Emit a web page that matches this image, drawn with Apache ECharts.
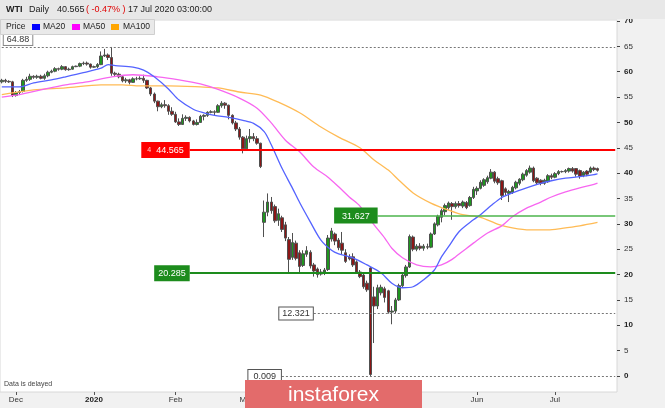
<!DOCTYPE html>
<html><head><meta charset="utf-8">
<script src="https://cdn.jsdelivr.net/npm/echarts@6/dist/echarts.min.js"></script>
<style>html,body{margin:0;padding:0;background:#f1f1f1;}#c{width:665px;height:408px;}</style>
</head><body><div id="c"></div>
<script>
// ---------- DATA ----------
const firstDay = '2019-11-26';
const lastDay = '2020-07-24';   // last 5 weekdays are empty space on the right
const monthNames = ['Jan','Feb','Mar','Apr','May','Jun','Jul','Aug','Sep','Oct','Nov','Dec'];

// daily candles [open, close, low, high], one per weekday from firstDay
const candles = [
[58.0,58.3,57.7,58.6],[58.3,58.1,57.8,58.6],[58.1,58.0,57.8,58.3],[58.0,55.3,55.0,58.2],
[55.3,55.9,55.1,56.2],[55.9,56.1,55.4,56.4],[56.1,58.3,55.9,58.6],[58.3,58.5,58.0,59.0],[58.5,59.1,58.2,59.6],
[59.1,58.9,58.6,59.3],[58.9,59.1,58.6,59.4],[59.1,58.7,58.5,59.4],[58.7,59.2,58.4,59.6],[59.2,59.9,58.9,60.2],
[59.9,60.1,59.7,60.4],[60.1,60.6,59.9,60.9],[60.6,60.5,60.2,60.8],[60.5,61.0,60.3,61.3],[61.0,60.4,60.2,61.1],
[60.4,60.5,60.2,60.8],[60.5,61.0,60.4,61.2],[61.0,61.1,60.9,61.2],[61.1,61.6,60.9,61.8],[61.6,61.7,61.3,62.0],
[61.7,61.5,61.2,62.0],[61.5,60.9,60.6,61.6],
[60.9,61.0,60.8,61.2],[61.0,61.4,60.7,61.7],[61.4,63.1,61.3,64.0],
[63.1,63.3,62.9,64.5],[63.3,62.8,62.3,63.6],[62.8,59.7,59.2,64.88],[59.7,59.5,59.0,60.0],[59.5,59.0,58.7,59.8],
[59.0,58.2,57.9,59.3],[58.2,58.4,57.8,58.8],[58.4,57.9,57.5,58.6],[57.9,58.6,57.8,58.9],[58.6,58.6,58.3,59.0],
[58.6,58.7,58.4,59.1],[58.7,58.3,57.8,59.4],[58.3,56.8,56.6,58.4],[56.8,55.6,55.2,57.0],[55.6,54.2,53.8,55.9],
[54.2,53.1,52.2,54.3],[53.1,53.5,52.8,53.9],[53.5,53.3,52.9,54.4],[53.3,52.2,51.5,53.6],[52.2,51.6,51.3,53.0],
[51.6,50.1,49.9,52.1],[50.1,49.6,49.3,50.8],[49.6,50.8,49.5,51.6],[50.8,51.0,50.3,51.4],[51.0,50.3,50.0,51.2],
[50.3,49.6,49.4,50.5],[49.6,50.0,49.4,50.6],[50.0,51.2,49.9,51.5],[51.2,51.4,50.4,51.6],[51.4,52.0,51.1,52.2],
[52.0,52.1,51.8,52.4],[52.1,52.0,51.3,52.4],[52.0,53.3,51.9,53.6],[53.3,53.8,52.9,54.2],[53.8,53.4,52.7,54.0],
[53.4,51.4,50.6,53.5],[51.4,49.9,49.6,51.6],[49.9,48.7,48.3,50.3],[48.7,47.1,46.6,49.1],[47.1,44.8,43.9,47.3],
[44.8,46.8,44.6,47.4],[46.8,47.2,46.0,48.7],[47.2,46.8,46.3,47.9],[46.8,45.9,45.6,47.3],[45.9,41.3,41.0,46.0],
[30.3,32.3,27.4,34.6],[32.3,34.3,31.5,36.0],[34.3,32.6,32.0,35.3],[33.4,30.6,30.2,33.8],[30.7,32.0,29.6,33.0],
[31.2,28.9,28.4,31.6],[29.8,27.2,26.6,30.4],[26.9,23.0,20.3,27.4],[23.4,26.3,22.9,28.2],[26.2,23.2,22.8,26.7],
[24.3,21.6,20.4,24.8],[21.8,24.1,21.5,24.8],[24.0,24.7,23.5,25.6],[24.4,21.7,21.2,24.8],[21.9,20.7,19.6,22.3],
[21.1,20.0,19.4,21.4],[20.1,20.5,19.8,21.1],[20.4,20.9,19.9,21.3],[21.0,27.2,20.7,27.8],[27.0,28.6,26.5,29.2],
[28.0,26.6,25.8,28.3],[26.8,25.3,24.8,27.2],[26.2,24.8,23.9,28.4],[24.3,22.6,22.3,25.0],[23.5,23.1,22.8,24.0],
[23.5,21.9,21.5,24.2],[22.5,20.5,20.2,22.8],[20.5,19.6,19.3,20.9],[19.9,17.6,17.2,20.2],[18.3,17.0,16.6,18.8],
[21.3,0.3,0.009,21.5],[15.6,13.8,6.5,17.6],[13.8,17.4,13.2,18.0],[16.4,17.5,15.9,18.0],[17.2,15.5,14.5,17.6],
[16.8,12.6,12.3,17.0],[12.6,12.8,10.2,13.8],[12.8,15.0,12.4,15.4],[15.0,17.8,14.8,18.2],[17.8,19.9,17.5,20.3],
[19.8,21.5,19.4,21.9],[21.5,27.5,21.3,27.9],[27.4,25.0,24.6,27.7],[25.0,25.6,24.6,26.0],[25.6,25.2,24.8,26.2],
[25.2,25.6,24.7,26.0],[25.5,25.4,25.0,26.1],[25.4,28.0,25.2,28.3],[28.0,30.0,27.8,30.3],[29.8,31.5,29.5,31.8],
[31.3,32.6,30.3,33.0],[32.4,33.6,31.7,34.0],[33.2,34.1,32.8,34.4],[34.0,33.4,30.8,34.3],[33.4,34.0,33.0,34.4],
[34.0,33.6,33.2,34.5],[33.5,34.3,33.1,34.6],[34.2,33.2,32.9,34.5],[33.6,35.2,33.4,35.5],[35.2,36.8,34.9,37.3],
[36.5,37.0,35.7,37.4],[37.0,38.2,36.8,38.6],[37.6,38.7,37.3,39.0],[38.3,39.1,37.9,39.5],[39.0,40.2,38.8,40.8],
[40.2,38.4,38.0,40.4],[38.9,38.1,37.7,39.3],[38.5,35.6,34.7,38.7],[36.9,36.2,35.6,37.2],[36.0,36.4,34.3,36.7],
[36.2,37.2,35.9,37.5],[37.1,38.2,36.8,38.5],[38.0,38.8,37.6,39.0],[38.7,39.8,38.4,40.1],[39.6,40.5,39.3,40.8],
[40.2,41.0,39.9,41.5],[41.0,38.5,38.2,41.3],[39.0,38.1,37.8,39.2],[38.6,38.0,37.6,38.8],[38.0,38.6,37.7,38.9],
[38.3,39.5,38.1,39.8],[39.5,39.2,38.8,39.9],[39.2,39.9,39.0,40.2],[39.9,40.3,39.6,40.6],[40.3,40.3,40.1,40.5],
[40.3,40.5,40.0,40.8],[40.4,40.9,40.1,41.1],[40.9,40.4,40.1,41.2],[40.9,39.8,39.3,41.0],[40.5,39.4,38.9,40.7],
[39.5,40.2,39.2,40.4],[40.4,39.8,39.4,40.6],[40.2,41.0,40.0,41.3],[41.0,40.7,40.4,41.3],[40.9,40.565,40.3,41.1]
];

// moving averages [date, value]
const ma20 = [['2019-11-26',57.0],['2019-12-03',57.0],['2019-12-09',57.8],['2019-12-16',58.4],['2019-12-20',59.0],['2019-12-27',59.8],['2020-01-03',60.7],['2020-01-07',61.4],['2020-01-09',61.2],['2020-01-16',60.9],['2020-01-21',60.3],['2020-01-24',59.0],['2020-01-30',56.6],['2020-02-04',54.4],['2020-02-10',52.6],['2020-02-13',51.9],['2020-02-18',51.4],['2020-02-24',51.0],['2020-02-28',50.4],['2020-03-04',49.8],['2020-03-09',48.2],['2020-03-11',45.6],['2020-03-16',41.0],['2020-03-19',37.0],['2020-03-23',34.2],['2020-03-26',30.4],['2020-03-31',26.8],['2020-04-03',24.8],['2020-04-07',24.1],['2020-04-13',23.3],['2020-04-17',21.9],['2020-04-23',20.3],['2020-04-28',18.3],['2020-05-01',17.4],['2020-05-06',17.6],['2020-05-11',19.0],['2020-05-14',20.9],['2020-05-18',23.5],['2020-05-20',25.5],['2020-05-25',28.5],['2020-05-29',30.8],['2020-06-02',31.8],['2020-06-05',33.6],['2020-06-10',35.2],['2020-06-15',36.1],['2020-06-19',37.1],['2020-06-25',38.0],['2020-06-30',38.5],['2020-07-06',39.0],['2020-07-10',39.3],['2020-07-16',39.7],['2020-07-17',39.9]];
const ma50 = [['2019-11-26',55.0],['2019-12-03',55.5],['2019-12-11',56.4],['2019-12-20',57.4],['2019-12-30',58.0],['2020-01-08',59.0],['2020-01-16',59.4],['2020-01-27',59.0],['2020-02-04',58.4],['2020-02-12',57.6],['2020-02-19',56.5],['2020-02-27',54.8],['2020-03-05',52.8],['2020-03-11',49.9],['2020-03-17',46.5],['2020-03-23',44.2],['2020-03-27',41.2],['2020-04-02',39.2],['2020-04-07',37.3],['2020-04-10',35.3],['2020-04-15',33.5],['2020-04-21',29.8],['2020-04-24',27.2],['2020-04-28',25.2],['2020-05-01',23.3],['2020-05-07',21.9],['2020-05-13',21.5],['2020-05-18',21.9],['2020-05-21',23.0],['2020-05-26',24.6],['2020-05-29',26.2],['2020-06-04',28.2],['2020-06-10',29.6],['2020-06-15',31.4],['2020-06-19',33.1],['2020-06-25',34.3],['2020-06-30',35.3],['2020-07-06',36.3],['2020-07-10',37.1],['2020-07-16',37.8],['2020-07-17',38.042]];
const ma100 = [['2019-11-26',55.5],['2019-12-09',56.4],['2019-12-20',56.8],['2020-01-03',57.4],['2020-01-13',57.4],['2020-01-20',57.2],['2020-01-30',57.2],['2020-02-12',57.0],['2020-02-19',56.8],['2020-02-27',56.0],['2020-03-06',55.4],['2020-03-13',54.0],['2020-03-23',51.9],['2020-03-31',49.1],['2020-04-07',47.1],['2020-04-15',45.0],['2020-04-21',42.6],['2020-04-27',40.6],['2020-04-30',38.6],['2020-05-06',36.1],['2020-05-13',34.1],['2020-05-20',32.7],['2020-05-26',31.8],['2020-06-02',31.3],['2020-06-09',29.9],['2020-06-15',29.2],['2020-06-22',28.8],['2020-06-29',28.8],['2020-07-03',29.1],['2020-07-10',29.6],['2020-07-17',30.276]];

// drawn horizontal levels and the day each one starts
const levelValues = [64.88, 44.565, 31.627, 20.285, 12.321, 0.009];
const levelStart  = ['2019-11-26','2020-02-07','2020-04-22','2020-02-07','2020-03-27','2020-03-16'];

const yTicks = {min: 0, max: 70, step: 5};
const headerTexts = ['WTI', 'Daily', '40.565', '( -0.47% )', '17 Jul 2020 03:00:00'];
const legendNames = ['MA20', 'MA50', 'MA100'];

// ---------- BUILD ----------
function weekdays(a, b) {
  const out = []; const d = new Date(a + 'T00:00:00Z'); const e = new Date(b + 'T00:00:00Z');
  while (d <= e) { const w = d.getUTCDay(); if (w !== 0 && w !== 6) out.push(d.toISOString().slice(0, 10)); d.setUTCDate(d.getUTCDate() + 1); }
  return out;
}
const cats = weekdays(firstDay, lastDay);
const lastCat = cats[cats.length - 1];
const monthStart = (i) => i > 0 && cats[i].slice(5, 7) !== cats[i - 1].slice(5, 7);
const FONT = 'Liberation Sans, Arial, sans-serif';

const levelStyles = [
  {line: {color: '#777', type: [2, 2], width: 1}, pos: 'insideStartTop', bg: '#fff', border: '#888', color: '#333', pad: [2, 3, 1, 3]},
  {line: {color: '#ff0000', type: 'solid', width: 2}, pos: 'start', bg: '#ff0000', border: '#ff0000', color: '#fff', icon: true, pad: [3, 5, 2, 5]},
  {line: {color: '#4cb44c', type: 'solid', width: 1.5}, pos: 'start', bg: '#1d8c1d', border: '#1d8c1d', color: '#fff', pad: [3, 7, 2, 7]},
  {line: {color: '#1d8c1d', type: 'solid', width: 2}, pos: 'start', bg: '#1d8c1d', border: '#1d8c1d', color: '#fff', pad: [3, 3, 2, 3]},
  {line: {color: '#777', type: [2, 2], width: 1}, pos: 'start', bg: '#fff', border: '#555', color: '#333', pad: [2, 3, 1, 3]},
  {line: {color: '#777', type: [2, 2], width: 1}, pos: 'start', bg: '#fff', border: '#555', color: '#333', pad: [2, 5, 1, 5]}
];

const levelLines = levelValues.map((v, k) => {
  const s = levelStyles[k];
  return [{
    coord: [levelStart[k], v], lineStyle: s.line,
    label: {show: true, position: s.pos, distance: s.pos === 'start' ? 1 : 2,
      formatter: s.icon ? '{i|4}  ' + v : String(v),
      backgroundColor: s.bg, borderColor: s.border, borderWidth: 1, padding: s.pad,
      color: s.color, fontSize: 9, fontFamily: FONT,
      rich: {i: {fontSize: 7, color: '#ffd0d0', fontFamily: FONT}}}
  }, {coord: [lastCat, v], lineStyle: s.line}];
});

const lastClose = candles[candles.length - 1][1];
const ma50Last = ma50[ma50.length - 1][1];
const ma100Last = ma100[ma100.length - 1][1];
const sideTag = (v, bg, fg, border) => ({
  yAxis: v, lineStyle: {opacity: 0},
  label: {show: true, position: 'end', distance: 3, formatter: v.toFixed(3), backgroundColor: bg,
    borderColor: border, borderWidth: 1, padding: [2, 3, 1, 4], color: fg, fontSize: 8.5, fontFamily: FONT}
});

const chart = echarts.init(document.getElementById('c'));
chart.setOption({
  animation: false,
  backgroundColor: '#f1f1f1',
  textStyle: {fontFamily: FONT},
  grid: [
    {left: 0, right: 48, top: 21, bottom: 32, show: false, containLabel: false, outerBoundsMode: 'none'},
    {left: 0, right: 48, top: 20, bottom: 16, show: true, backgroundColor: '#ffffff', borderColor: '#d8d8d8', borderWidth: 1, containLabel: false, outerBoundsMode: 'none'}
  ],
  xAxis: [
    {type: 'category', data: cats, gridIndex: 0, show: false, boundaryGap: true},
    {type: 'category', data: cats, gridIndex: 1, boundaryGap: true,
      axisLine: {show: false},
      axisTick: {show: true, alignWithLabel: true, interval: (i) => monthStart(i), length: 3, lineStyle: {color: '#555'}},
      axisLabel: {interval: (i) => monthStart(i), margin: 4, fontSize: 8, color: '#333', fontFamily: FONT,
        formatter: (v) => { const m = +v.slice(5, 7); return m === 1 ? '{b|' + v.slice(0, 4) + '}' : monthNames[m - 1]; },
        rich: {b: {fontWeight: 'bold', fontSize: 8, color: '#222', fontFamily: FONT}}},
      splitLine: {show: false}}
  ],
  yAxis: [
    {type: 'value', gridIndex: 0, position: 'right', min: yTicks.min, max: yTicks.max, interval: yTicks.step,
      splitLine: {show: false}, axisLine: {show: false},
      axisTick: {show: true, length: 3, lineStyle: {color: '#444'}},
      axisLabel: {margin: 7, fontSize: 8, color: '#333', fontFamily: FONT,
        formatter: (v) => v % 10 === 0 ? '{b|' + v + '}' : String(v),
        rich: {b: {fontWeight: 'bold', fontSize: 8, color: '#222', fontFamily: FONT}}}},
    {type: 'value', gridIndex: 1, show: false, min: 0, max: 1}
  ],
  series: [
    {type: 'candlestick', name: 'Price', xAxisIndex: 0, yAxisIndex: 0, data: candles, barWidth: 3,
      itemStyle: {color: '#1f961f', color0: '#8c1616', borderColor: '#505050', borderColor0: '#505050', borderWidth: 1},
      markLine: {symbol: ['none', 'none'], silent: true, animation: false, z: 5,
        data: levelLines.concat([
          sideTag(ma100Last, '#ffffff', '#ffa500', '#444'),
          sideTag(ma50Last, '#ffffff', '#ff00ff', '#444'),
          sideTag(lastClose, '#f7cd1c', '#333', '#888')
        ])}},
    {type: 'line', name: 'MA100', xAxisIndex: 0, yAxisIndex: 0, data: ma100, showSymbol: false, smooth: 0.3,
      lineStyle: {color: '#ffbb55', width: 1.3}, z: 3},
    {type: 'line', name: 'MA50', xAxisIndex: 0, yAxisIndex: 0, data: ma50, showSymbol: false, smooth: 0.3,
      lineStyle: {color: '#f766f0', width: 1.3}, z: 3},
    {type: 'line', name: 'MA20', xAxisIndex: 0, yAxisIndex: 0, data: ma20, showSymbol: false, smooth: 0.3,
      lineStyle: {color: '#5463ff', width: 1.3}, z: 3}
  ],
  graphic: [
    {type: 'rect', z: 50, shape: {x: 0, y: 0, width: 665, height: 19}, style: {fill: '#e8e8e8'}},
    {type: 'text', z: 51, x: 6, y: 10, style: {text: headerTexts[0], fontSize: 9, fontWeight: 'bold', fontFamily: FONT, fill: '#222', verticalAlign: 'middle'}},
    {type: 'text', z: 51, x: 29, y: 10, style: {text: headerTexts[1], fontSize: 9, fontFamily: FONT, fill: '#222', verticalAlign: 'middle'}},
    {type: 'text', z: 51, x: 57, y: 10, style: {text: headerTexts[2], fontSize: 9, fontFamily: FONT, fill: '#222', verticalAlign: 'middle'}},
    {type: 'text', z: 51, x: 86, y: 10, style: {text: headerTexts[3], fontSize: 9, fontFamily: FONT, fill: '#e00000', verticalAlign: 'middle'}},
    {type: 'text', z: 51, x: 128, y: 10, style: {text: headerTexts[4], fontSize: 9, fontFamily: FONT, fill: '#222', verticalAlign: 'middle'}},
    {type: 'rect', z: 50, shape: {x: 0.5, y: 19.5, width: 154, height: 15}, style: {fill: '#e9e9e9', stroke: '#cfcfcf', lineWidth: 1}},
    {type: 'text', z: 51, x: 6, y: 27, style: {text: 'Price', fontSize: 8.5, fontFamily: FONT, fill: '#222', verticalAlign: 'middle'}},
    {type: 'rect', z: 51, shape: {x: 32, y: 24, width: 8, height: 6}, style: {fill: '#0000ff'}},
    {type: 'text', z: 51, x: 43, y: 27, style: {text: legendNames[0], fontSize: 8.5, fontFamily: FONT, fill: '#222', verticalAlign: 'middle'}},
    {type: 'rect', z: 51, shape: {x: 72, y: 24, width: 8, height: 6}, style: {fill: '#ff00ff'}},
    {type: 'text', z: 51, x: 83, y: 27, style: {text: legendNames[1], fontSize: 8.5, fontFamily: FONT, fill: '#222', verticalAlign: 'middle'}},
    {type: 'rect', z: 51, shape: {x: 111, y: 24, width: 8, height: 6}, style: {fill: '#ffa500'}},
    {type: 'text', z: 51, x: 123, y: 27, style: {text: legendNames[2], fontSize: 8.5, fontFamily: FONT, fill: '#222', verticalAlign: 'middle'}},
    {type: 'text', z: 51, x: 4, y: 384, style: {text: 'Data is delayed', fontSize: 7, fontFamily: FONT, fill: '#444', verticalAlign: 'middle'}},
    {type: 'rect', z: 60, shape: {x: 245, y: 380, width: 177, height: 28}, style: {fill: '#e36b6b'}},
    {type: 'text', z: 61, x: 333.5, y: 395, style: {text: 'instaforex', fontSize: 21, fontFamily: FONT, fill: '#ffffff', align: 'center', verticalAlign: 'middle'}}
  ]
});
</script>
</body></html>
